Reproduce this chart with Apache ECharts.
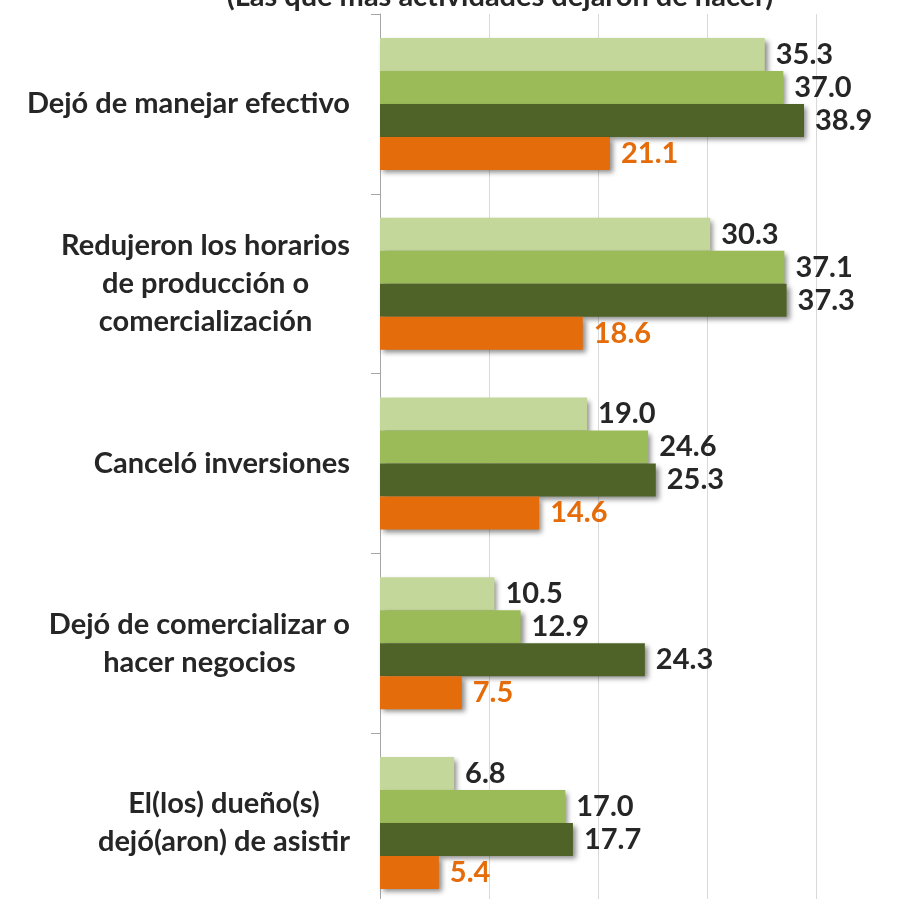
<!DOCTYPE html>
<html>
<head>
<meta charset="utf-8">
<script src="https://cdn.jsdelivr.net/npm/echarts@6/dist/echarts.min.js"></script>
<style>html,body{margin:0;padding:0;background:#fff;}#c{width:910px;height:899px;}</style>
</head>
<body>
<div id="c"></div>
<script>
const titleText = '(Las que más actividades dejaron de hacer)';
const categories = [
  'Dejó de manejar efectivo',
  'Redujeron los horarios\nde producción o\ncomercialización',
  'Canceló inversiones',
  'Dejó de comercializar o\nhacer negocios',
  'El(los) dueño(s)\ndejó(aron) de asistir'
];
const seriesNames = ['Serie 1', 'Serie 2', 'Serie 3', 'Serie 4'];
const serie1 = [35.3, 30.3, 19.0, 10.5, 6.8];
const serie2 = [37.0, 37.1, 24.6, 12.9, 17.0];
const serie3 = [38.9, 37.3, 25.3, 24.3, 17.7];
const serie4 = [21.1, 18.6, 14.6, 7.5, 5.4];
const xTicks = [0, 10, 20, 30, 40];

const colors = ['#c4d79b', '#9bbb59', '#4f6228', '#e46c0a'];
const labelColors = ['#262626', '#262626', '#262626', '#e46c0a'];
const FONT = 'Lato';
const values = [serie1, serie2, serie3, serie4];

const chart = echarts.init(document.getElementById('c'), null, {renderer: 'canvas'});
chart.setOption({
  animation: false,
  backgroundColor: '#ffffff',
  title: {
    text: titleText,
    left: 495, textAlign: 'center',
    top: -23,
    textStyle: {fontFamily: FONT, fontSize: 29, fontWeight: 'bold', color: '#262626'}
  },
  grid: {left: 380, width: 436, top: 14, height: 899, containLabel: false, outerBoundsMode: 'none'},
  xAxis: {
    type: 'value', min: xTicks[0], max: xTicks[xTicks.length - 1], interval: 10,
    axisLabel: {show: false}, axisTick: {show: false}, axisLine: {show: false},
    splitLine: {show: true, lineStyle: {color: '#d9d9d9', width: 1}}
  },
  yAxis: {
    type: 'category', data: categories, inverse: true,
    axisLine: {show: true, lineStyle: {color: '#a6a6a6', width: 1}},
    axisTick: {show: true, length: 9, lineStyle: {color: '#a6a6a6'}},
    axisLabel: {
      margin: 30,
      formatter: function (v) {
        return v.split('\n').map(function (s) { return '{c|' + s + '}'; }).join('\n');
      },
      rich: {c: {align: 'center', fontFamily: FONT, fontSize: 29, fontWeight: 'bold', color: '#262626', lineHeight: 38}}
    }
  },
  series: values.map(function (vals, i) {
    return {
      name: seriesNames[i], type: 'bar', data: vals,
      barWidth: 33, barGap: '0%',
      itemStyle: {color: colors[i], shadowColor: 'rgba(0,0,0,0.45)', shadowBlur: 5, shadowOffsetX: 3, shadowOffsetY: 3},
      label: {
        show: true, position: 'right', distance: 11,
        formatter: function (p) { return p.value.toFixed(1); },
        fontFamily: FONT, fontSize: 29, fontWeight: 'bold', color: labelColors[i]
      }
    };
  })
});
</script>
</body>
</html>
